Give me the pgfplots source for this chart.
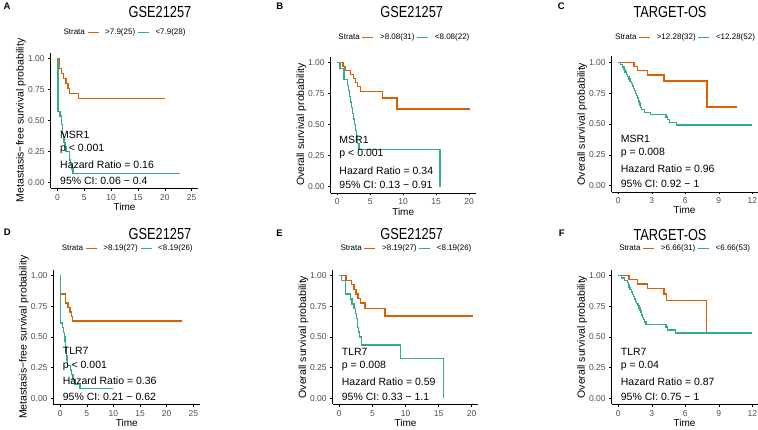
\documentclass[border=0pt]{standalone}
\usepackage{fontspec}
\setmainfont{Liberation Sans}
\usepackage{graphicx}
\usepackage{pgfplots}
\pgfplotsset{compat=1.18}
\definecolor{kmorange}{HTML}{D95F02}
\definecolor{kmgreen}{HTML}{33AC87}
\definecolor{tickgray}{HTML}{4D4D4D}
\pgfplotsset{
 km/.style={
  scale only axis,
  axis lines=left,
  axis line style={-, line width=0.6pt, black},
  tick align=outside,
  major tick length=2.5pt,
  every tick/.style={black, line width=0.5pt},
  ymin=-0.05, ymax=1.05,
  ytick={0,0.25,0.5,0.75,1},
  yticklabels={0.00,0.25,0.50,0.75,1.00},
  tick label style={font=\fontsize{8.5}{10}\selectfont, text=tickgray},
  /pgf/number format/assume math mode=true,
  xlabel={Time},
  xlabel style={font=\fontsize{10}{12}\selectfont, at={(axis description cs:0.5,-0.137)}, anchor=center},
  ylabel style={font=\fontsize{10.5}{12}\selectfont, at={(axis description cs:-0.202,0.5)}, anchor=center},
  legend columns=-1,
  legend style={draw=none, fill=none, inner sep=0pt, anchor=west, font=\fontsize{8}{9}\selectfont, /tikz/every odd column/.style={column sep=4pt}},
  legend image code/.code={\draw[##1, line width=1.3pt] (0pt,0pt) -- (11pt,0pt);},
  every axis plot/.append style={line width=1.3pt, const plot},
 },
}
\tikzset{ann/.style={anchor=west, inner sep=0pt, font=\fontsize{10.5}{12}\selectfont}}
\begin{document}
\begin{tikzpicture}
\useasboundingbox (0pt,0pt) rectangle (758pt,-429pt);
% ---------- A ----------
\begin{axis}[km, at={(50.7pt,-188.3pt)}, anchor=south west, width=147.6pt, height=135.8pt,
  xmin=-1.25, xmax=26.25, xtick={0,5,10,15,20,25},
  ylabel={Metastasis−free survival probability},
  legend style={at={(axis description cs:0.045,1.149)}}]
\addlegendimage{empty legend}\addlegendentry{Strata}
\addplot[kmorange] coordinates {(0,1) (0.375,0.92) (0.75,0.88) (1.125,0.84) (1.625,0.80) (2.0,0.76) (2.25,0.72) (3.875,0.68) (20.0,0.68)};
\addlegendentry{>7.9(25)}
\addplot[kmgreen] coordinates {(0,1) (0.1,0.571) (0.5,0.536) (0.7,0.5) (0.8,0.464) (0.9,0.429) (1.0,0.393) (1.1,0.357) (1.25,0.321) (1.4,0.286) (1.6,0.25) (2.2,0.179) (2.5,0.143) (2.7,0.107) (2.9,0.071) (22.9,0.071)};
\addlegendentry{<7.9(28)}
\node[ann] at (axis cs:0.48,0.381) {MSR1};
\node[ann] at (axis cs:0.48,0.268) {p < 0.001};
\node[ann] at (axis cs:0.48,0.144) {Hazard Ratio = 0.16};
\node[ann] at (axis cs:0.48,0.012) {95\% CI: 0.06 − 0.4};
\end{axis}
% ---------- B ----------
\begin{axis}[km, at={(330.7pt,-192.8pt)}, anchor=south west, width=145pt, height=136.3pt,
  xmin=-1, xmax=21, xtick={0,5,10,15,20},
  ylabel={Overall survival probability},
  legend style={at={(axis description cs:0.011,1.141)}}]
\addlegendimage{empty legend}\addlegendentry{Strata}
\addplot[kmorange] coordinates {(0,1) (0.85,0.968) (1.15,0.935) (2.0,0.903) (2.5,0.871) (2.75,0.839) (3.1,0.806) (3.5,0.77) (6.9,0.715) (9.05,0.626) (20.2,0.626)};
\addlegendentry{>8.08(31)}
\addplot[kmgreen] coordinates {(0,1) (0.4,0.955) (1.0,0.864) (1.5,0.818) (1.7,0.773) (1.85,0.727) (2.0,0.682) (2.15,0.636) (2.3,0.591) (2.45,0.545) (2.6,0.5) (2.75,0.455) (2.9,0.41) (3.1,0.35) (3.3,0.30) (15.6,0.0)};
\addlegendentry{<8.08(22)}
\node[ann] at (axis cs:0.3,0.377) {MSR1};
\node[ann] at (axis cs:0.3,0.261) {p < 0.001};
\node[ann] at (axis cs:0.3,0.129) {Hazard Ratio = 0.34};
\node[ann] at (axis cs:0.3,0.011) {95\% CI: 0.13 − 0.91};
\end{axis}
% ---------- C ----------
\begin{axis}[km, at={(611.6pt,-191.8pt)}, anchor=south west, width=145.9pt, height=135.6pt,
  xmin=-0.6, xmax=12.46, xtick={0,3,6,9,12},
  ylabel={Overall survival probability},
  legend style={at={(axis description cs:-0.018,1.139)}}]
\addlegendimage{empty legend}\addlegendentry{Strata}
\addplot[kmorange] coordinates {(0,1) (1.4,0.967) (1.7,0.933) (2.6,0.897) (4.1,0.849) (7.95,0.638) (10.65,0.638)};
\addlegendentry{>12.28(32)}
\addplot[kmgreen] coordinates {(0,1) (0.2,0.981) (0.36,0.962) (0.5,0.942) (0.6,0.923) (0.75,0.904) (0.85,0.885) (0.96,0.865) (1.05,0.846) (1.17,0.827) (1.25,0.808) (1.35,0.788) (1.45,0.769) (1.56,0.75) (1.65,0.731) (1.71,0.712) (1.8,0.692) (1.86,0.673) (1.95,0.654) (2.0,0.635) (2.1,0.615) (2.32,0.596) (2.9,0.577) (4.27,0.556) (4.4,0.535) (4.6,0.514) (5.2,0.493) (12.0,0.493)};
\addlegendentry{<12.28(52)}
\node[ann] at (axis cs:0.21,0.38) {MSR1};
\node[ann] at (axis cs:0.21,0.262) {p = 0.008};
\node[ann] at (axis cs:0.21,0.135) {Hazard Ratio = 0.96};
\node[ann] at (axis cs:0.21,0.012) {95\% CI: 0.92 − 1};
\end{axis}
% ---------- D ----------
\begin{axis}[km, at={(53.5pt,-404.4pt)}, anchor=south west, width=146.5pt, height=134.8pt,
  xmin=-1.25, xmax=26.25, xtick={0,5,10,15,20,25},
  ylabel={Metastasis−free survival probability},
  legend style={at={(axis description cs:0.014,1.158)}}]
\addlegendimage{empty legend}\addlegendentry{Strata}
\addplot[kmorange] coordinates {(0,1) (0.05,0.852) (0.95,0.778) (1.45,0.741) (1.85,0.704) (2.1,0.667) (2.35,0.63) (22.95,0.63)};
\addlegendentry{>8.19(27)}
\addplot[kmgreen] coordinates {(0,1) (0.05,0.615) (0.4,0.577) (0.6,0.538) (0.8,0.5) (0.9,0.462) (1.0,0.423) (1.1,0.385) (1.2,0.346) (1.3,0.308) (1.4,0.269) (1.9,0.231) (2.1,0.192) (2.4,0.154) (2.8,0.115) (3.7,0.077) (9.9,0.077)};
\addlegendentry{<8.19(26)}
\node[ann] at (axis cs:0.47,0.385) {TLR7};
\node[ann] at (axis cs:0.47,0.268) {p < 0.001};
\node[ann] at (axis cs:0.47,0.144) {Hazard Ratio = 0.36};
\node[ann] at (axis cs:0.47,0.012) {95\% CI: 0.21 − 0.62};
\end{axis}
% ---------- E ----------
\begin{axis}[km, at={(332.7pt,-404.4pt)}, anchor=south west, width=145.6pt, height=134.8pt,
  xmin=-1, xmax=21, xtick={0,5,10,15,20},
  ylabel={Overall survival probability},
  legend style={at={(axis description cs:0.011,1.158)}}]
\addlegendimage{empty legend}\addlegendentry{Strata}
\addplot[kmorange] coordinates {(0,1) (1.0,0.963) (1.8,0.926) (2.2,0.889) (2.5,0.852) (2.8,0.815) (3.2,0.778) (3.9,0.734) (6.9,0.672) (20.2,0.672)};
\addlegendentry{>8.19(27)}
\addplot[kmgreen] coordinates {(0,1) (0.35,0.962) (0.9,0.85) (1.7,0.81) (1.9,0.77) (2.2,0.73) (2.4,0.69) (2.55,0.65) (2.7,0.58) (2.9,0.54) (3.05,0.5) (3.3,0.436) (9.2,0.327) (15.7,0.0)};
\addlegendentry{<8.19(26)}
\node[ann] at (axis cs:0.36,0.38) {TLR7};
\node[ann] at (axis cs:0.36,0.262) {p = 0.008};
\node[ann] at (axis cs:0.36,0.135) {Hazard Ratio = 0.59};
\node[ann] at (axis cs:0.36,0.012) {95\% CI: 0.33 − 1.1};
\end{axis}
% ---------- F ----------
\begin{axis}[km, at={(611.6pt,-404.4pt)}, anchor=south west, width=145.9pt, height=134.8pt,
  xmin=-0.6, xmax=12.46, xtick={0,3,6,9,12},
  ylabel={Overall survival probability},
  legend style={at={(axis description cs:0.01,1.158)}}]
\addlegendimage{empty legend}\addlegendentry{Strata}
\addplot[kmorange] coordinates {(0,1) (0.96,0.967) (1.7,0.933) (2.6,0.895) (4.1,0.85) (4.3,0.80) (7.9,0.533) (10.65,0.533)};
\addlegendentry{>6.66(31)}
\addplot[kmgreen] coordinates {(0,1) (0.3,0.981) (0.57,0.962) (0.8,0.943) (0.9,0.925) (0.96,0.906) (1.05,0.887) (1.17,0.868) (1.25,0.849) (1.35,0.83) (1.45,0.811) (1.56,0.792) (1.65,0.774) (1.77,0.755) (1.85,0.736) (1.95,0.717) (2.02,0.698) (2.08,0.679) (2.17,0.66) (2.26,0.642) (2.35,0.623) (2.47,0.604) (4.27,0.581) (4.4,0.557) (5.1,0.533) (12.0,0.533)};
\addlegendentry{<6.66(53)}
\node[ann] at (axis cs:0.21,0.38) {TLR7};
\node[ann] at (axis cs:0.21,0.262) {p = 0.04};
\node[ann] at (axis cs:0.21,0.135) {Hazard Ratio = 0.87};
\node[ann] at (axis cs:0.21,0.012) {95\% CI: 0.75 − 1};
\end{axis}
% ---------- titles and panel letters ----------
\node[font=\fontsize{16}{18}\selectfont] at (160pt,-11.7pt) {\scalebox{0.8}[1]{GSE21257}};
\node[font=\fontsize{16}{18}\selectfont] at (411.7pt,-11.7pt) {\scalebox{0.8}[1]{GSE21257}};
\node[font=\fontsize{16}{18}\selectfont] at (670pt,-11.7pt) {\scalebox{0.8}[1]{TARGET-OS}};
\node[font=\fontsize{16}{18}\selectfont] at (160pt,-234.2pt) {\scalebox{0.8}[1]{GSE21257}};
\node[font=\fontsize{16}{18}\selectfont] at (411.7pt,-234.3pt) {\scalebox{0.8}[1]{GSE21257}};
\node[font=\fontsize{16}{18}\selectfont] at (670pt,-235pt) {\scalebox{0.8}[1]{TARGET-OS}};
\node[font=\bfseries\fontsize{9.5}{11}\selectfont] at (7pt,-6.7pt) {A};
\node[font=\bfseries\fontsize{9.5}{11}\selectfont] at (279.7pt,-6.7pt) {B};
\node[font=\bfseries\fontsize{9.5}{11}\selectfont] at (561.3pt,-6.7pt) {C};
\node[font=\bfseries\fontsize{9.5}{11}\selectfont] at (7.3pt,-232.3pt) {D};
\node[font=\bfseries\fontsize{9.5}{11}\selectfont] at (279.5pt,-233.3pt) {E};
\node[font=\bfseries\fontsize{9.5}{11}\selectfont] at (561.7pt,-233.3pt) {F};
\end{tikzpicture}
\end{document}
